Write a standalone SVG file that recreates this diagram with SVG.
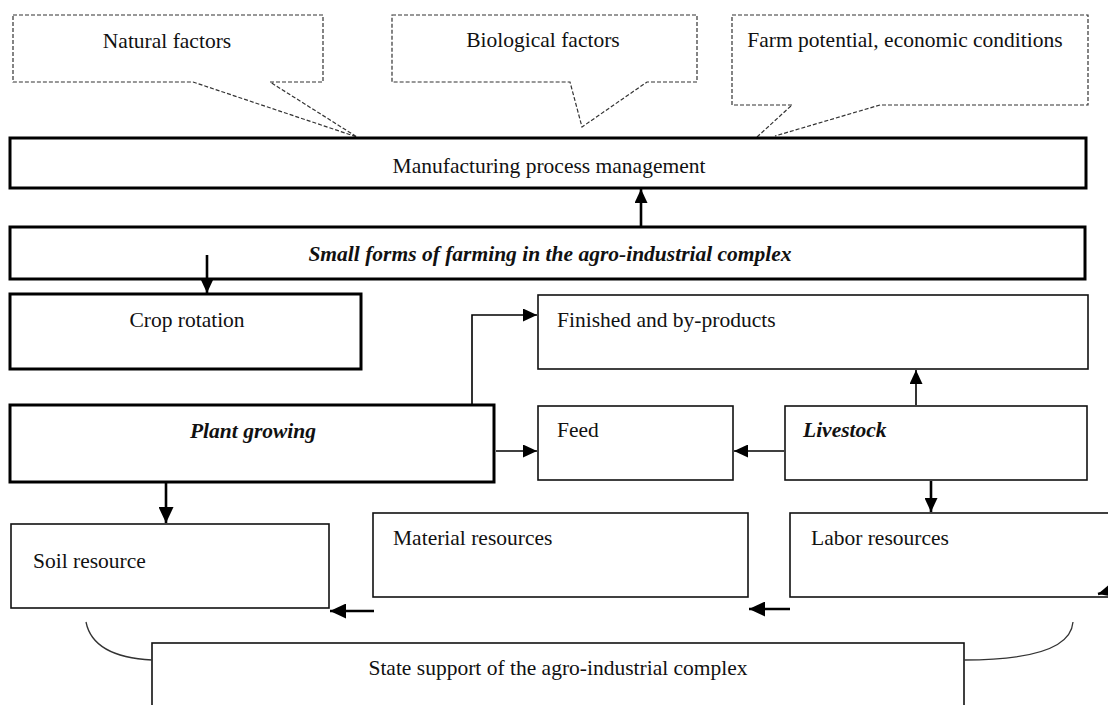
<svg xmlns="http://www.w3.org/2000/svg" width="1108" height="705" viewBox="0 0 1108 705">
<defs>
<marker id="ah" viewBox="0 0 10 10" refX="10" refY="5" markerWidth="14" markerHeight="13" markerUnits="userSpaceOnUse" orient="auto" preserveAspectRatio="none"><path d="M0,0 L10,5 L0,10 Z" fill="#000"/></marker>
<marker id="ahb" viewBox="0 0 10 10" refX="10" refY="5" markerWidth="16" markerHeight="15" markerUnits="userSpaceOnUse" orient="auto" preserveAspectRatio="none"><path d="M0,0 L10,5 L0,10 Z" fill="#000"/></marker>
</defs>
<style>
text{font-family:"Liberation Serif","Times New Roman",serif;font-size:21.5px;fill:#111}
.it{font-style:italic;font-weight:bold}
.thick{fill:#fff;stroke:#000;stroke-width:3}
.thin{fill:#fff;stroke:#111;stroke-width:1.6}
.dash{fill:#fff;stroke:#333;stroke-width:1.2;stroke-dasharray:4 2}
.c{fill:none;stroke:#000;stroke-width:1.6}
.cb{fill:none;stroke:#000;stroke-width:2.6}
.curve{fill:none;stroke:#333;stroke-width:1.3}
</style>
<rect width="1108" height="705" fill="#fff"/>

<g id="natural-factors">
<path class="dash" d="M13,15 H323 V82 H270 L357,137 L193,82 H13 Z"/>
<text x="167" y="48" text-anchor="middle">Natural factors</text>
</g>
<g id="biological-factors">
<path class="dash" d="M392,15 H697 V82 H647 L582,127 L570,82 H392 Z"/>
<text x="543" y="47" text-anchor="middle">Biological factors</text>
</g>
<g id="farm-potential">
<path class="dash" d="M792,105 H732 V15 H1088 V105 H880 L775,136"/>
<path class="dash" fill="none" d="M757,137 L792,105"/>
<text x="905" y="47" text-anchor="middle">Farm potential, economic conditions</text>
</g>

<g id="manufacturing">
<rect class="thick" x="10" y="138" width="1076" height="50"/>
<text x="549" y="173" text-anchor="middle">Manufacturing process management</text>
</g>
<g id="small-forms">
<rect class="thick" x="10" y="227" width="1075" height="52"/>
<text class="it" x="550" y="261" text-anchor="middle" font-size="20.5">Small forms of farming in the agro-industrial complex</text>
</g>
<g id="crop-rotation">
<rect class="thick" x="10" y="294" width="351" height="75"/>
<text x="187" y="327" text-anchor="middle">Crop rotation</text>
</g>
<g id="plant-growing">
<rect class="thick" x="10" y="405" width="484" height="77"/>
<text class="it" x="253" y="438" text-anchor="middle">Plant growing</text>
</g>
<g id="finished">
<rect class="thin" x="538" y="295" width="550" height="74"/>
<text x="557" y="327">Finished and by-products</text>
</g>
<g id="feed">
<rect class="thin" x="538" y="406" width="195" height="74"/>
<text x="557" y="437">Feed</text>
</g>
<g id="livestock">
<rect class="thin" x="785" y="406" width="302" height="74"/>
<text class="it" x="803" y="437">Livestock</text>
</g>
<g id="soil">
<rect class="thin" x="11" y="524" width="318" height="84"/>
<text x="33" y="568">Soil resource</text>
</g>
<g id="material">
<rect class="thin" x="373" y="513" width="375" height="84"/>
<text x="393" y="545">Material resources</text>
</g>
<g id="labor">
<rect class="thin" x="790" y="513" width="330" height="84"/>
<text x="811" y="545">Labor resources</text>
</g>
<g id="state-support">
<rect class="thin" x="152" y="643" width="812" height="70"/>
<text x="558" y="675" text-anchor="middle">State support of the agro-industrial complex</text>
</g>

<g id="connectors">
<line class="cb" x1="641" y1="226" x2="641" y2="189" marker-end="url(#ah)"/>
<line class="cb" x1="207" y1="255" x2="207" y2="293" marker-end="url(#ah)"/>
<polyline class="c" points="472,404 472,315 537,315" marker-end="url(#ah)"/>
<line class="c" x1="496" y1="451" x2="537" y2="451" marker-end="url(#ah)"/>
<line class="c" x1="784" y1="451" x2="734" y2="451" marker-end="url(#ah)"/>
<line class="c" x1="916" y1="405" x2="916" y2="370" marker-end="url(#ah)"/>
<line class="cb" x1="166" y1="483" x2="166" y2="523" marker-end="url(#ahb)"/>
<line class="cb" x1="931" y1="481" x2="931" y2="512" marker-end="url(#ah)"/>
<line class="cb" x1="374" y1="611" x2="330" y2="611" marker-end="url(#ahb)"/>
<line class="cb" x1="790" y1="609" x2="749" y2="609" marker-end="url(#ahb)"/>
<line class="cb" x1="1120" y1="588" x2="1098" y2="594" marker-end="url(#ahb)"/>
<path class="curve" d="M86,622 Q93,657 152,660"/>
<path class="curve" d="M1073,622 Q1070,660 964,660"/>
</g>
</svg>
